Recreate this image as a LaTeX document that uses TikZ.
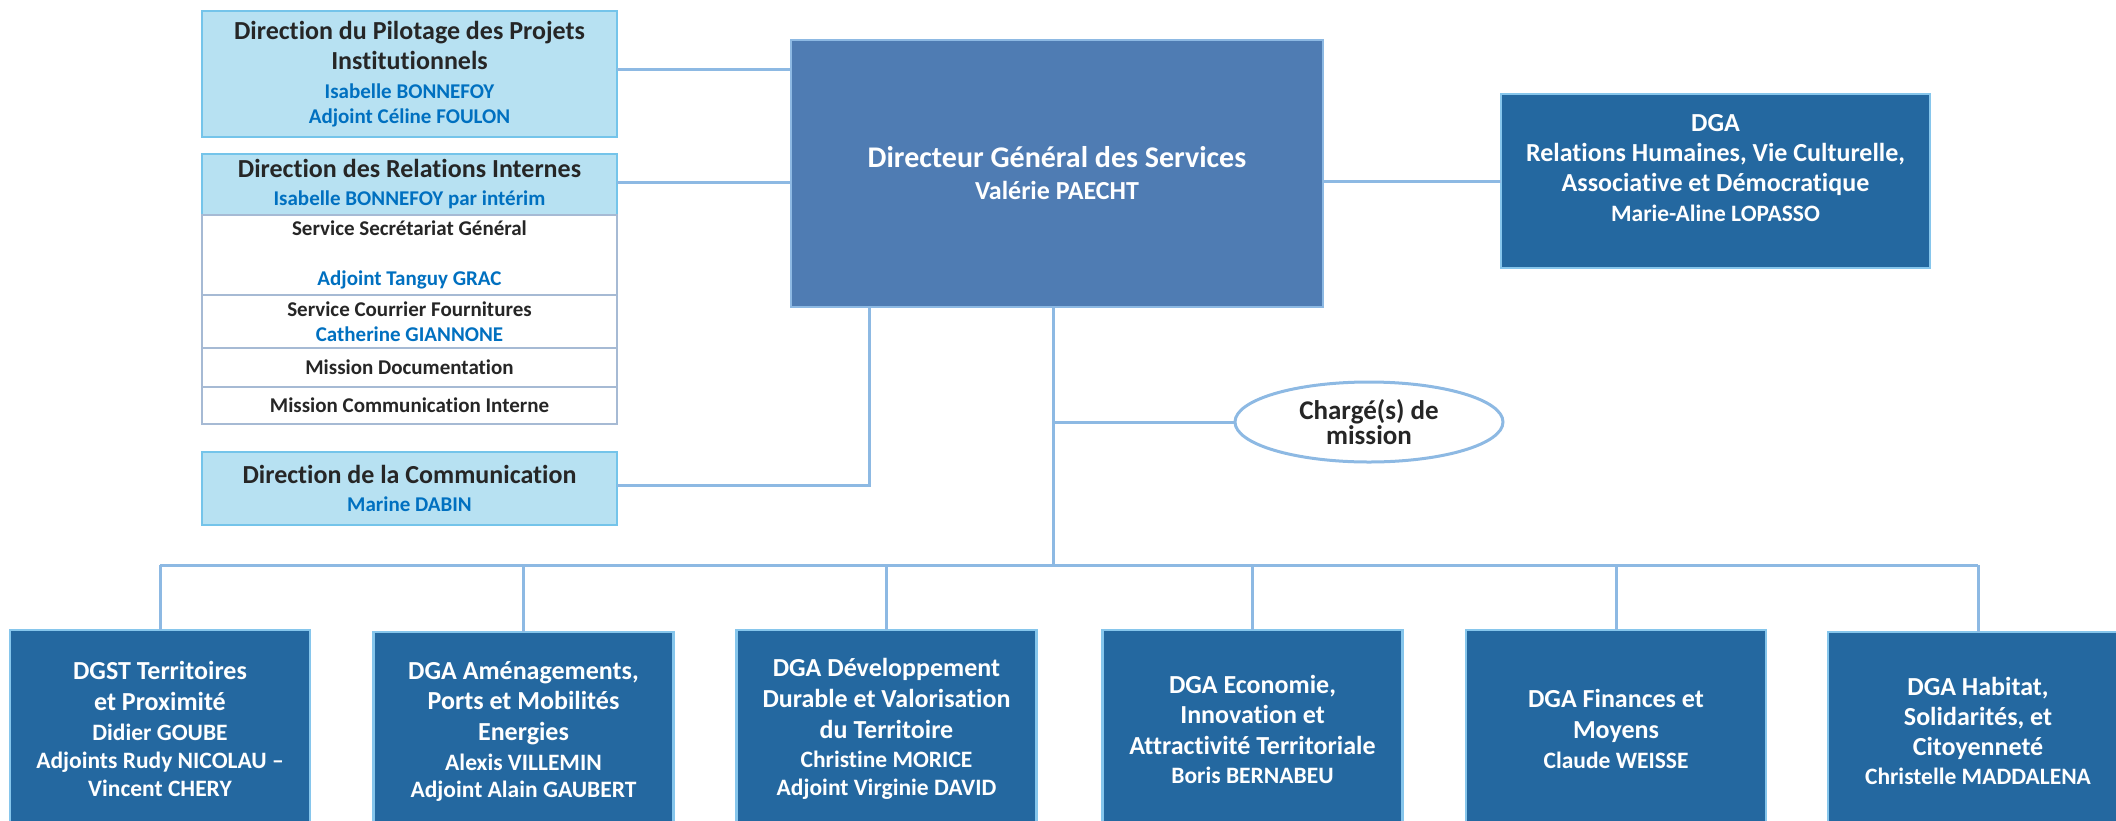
\documentclass[tikz,border=0pt]{standalone}
\usepackage{fontspec}
\setmainfont{Carlito}[Ligatures={NoCommon}]
\usetikzlibrary{shapes.geometric,calc}
\definecolor{lightfill}{HTML}{B7E1F2}
\definecolor{lightborder}{HTML}{74C4EA}
\definecolor{nameblue}{HTML}{0070C0}
\definecolor{darktxt}{HTML}{262626}
\definecolor{dgsfill}{HTML}{4F7CB3}
\definecolor{dgafill}{HTML}{2468A0}
\definecolor{dgaborder}{HTML}{86C6EC}
\definecolor{linkcol}{HTML}{8DB9E3}
\definecolor{servborder}{HTML}{A6BAD4}
\newcommand\Tt{\fontsize{13pt}{15pt}\selectfont\color{darktxt}}
\newcommand\Nn{\fontsize{10.5pt}{12.5pt}\selectfont\color{nameblue}}
\newcommand\Ss{\fontsize{10.5pt}{12.5pt}\selectfont\color{darktxt}}
\newcommand\Wt{\fontsize{13pt}{15pt}\selectfont}
\newcommand\Wn{\fontsize{11.75pt}{14pt}\selectfont}
\newcommand\skipto[1]{\fontsize{10pt}{#1}\selectfont}
\begin{document}
\begin{tikzpicture}[x=0.5pt,y=-0.5pt,
  every node/.style={inner sep=0pt, outer sep=0pt, align=center},
  bsk/.style={font=\bfseries\skipto{#1}},
  lbox/.style={rectangle, fill=lightfill, draw=lightborder, line width=1.3pt, minimum width=207.5pt},
  sbox/.style={rectangle, fill=white, draw=servborder, line width=1pt, minimum width=207.5pt},
  dbox/.style={rectangle, fill=dgafill, draw=dgaborder, line width=1.2pt, text=white},
  bbox/.style={dbox, minimum width=150pt, minimum height=99pt, bsk=14.5pt},
  link/.style={draw=linkcol, line width=1.5pt}
]
\useasboundingbox (0,0) rectangle (2116,820);
\clip (0,0) rectangle (2116,820);

% left column
\node[lbox, minimum height=63pt, bsk=15pt] (pil) at (409.5,74)
  {\Tt Direction du Pilotage des Projets\\
   \Tt Institutionnels\\[-0.5pt]
   \Nn Isabelle BONNEFOY\\[-2.5pt]
   \Nn Adjoint Céline FOULON};
\node[lbox, minimum height=30.5pt, bsk=14pt] (rel) at (409.5,184.5)
  {\Tt Direction des Relations Internes\\
   \Nn Isabelle BONNEFOY par intérim};
\node[sbox, minimum height=40pt, bsk=12.5pt] (sec) at (409.5,255)
  {\Ss Service Secrétariat Général\\[12.5pt]
   \Nn Adjoint Tanguy GRAC};
\node[sbox, minimum height=26.5pt, bsk=12.5pt] (cou) at (409.5,321.5)
  {\Ss Service Courrier Fournitures\\
   \Nn Catherine GIANNONE};
\node[sbox, minimum height=19.5pt, bsk=12.5pt] (doc) at (409.5,367.5)
  {\Ss Mission Documentation};
\node[sbox, minimum height=18.5pt, bsk=12.5pt] (mci) at (409.5,405.5)
  {\Ss Mission Communication Interne};
\node[lbox, minimum height=36.5pt, bsk=14pt] (com) at (409.5,488.5)
  {\Tt Direction de la Communication\\
   \Nn Marine DABIN};

% DGS
\node[rectangle, fill=dgsfill, draw=linkcol, line width=0.6pt, text=white,
      minimum width=266pt, minimum height=133.5pt, bsk=16pt] (dgs) at (1057,173.5)
  {\fontsize{15pt}{17pt}\selectfont Directeur Général des Services\\
   \fontsize{13pt}{15pt}\selectfont Valérie PAECHT};

% right DGA
\node[dbox, minimum width=214.5pt, minimum height=87pt] (dga) at (1715.5,181) {};
\node[text=white, bsk=15pt] (dgat) at ([yshift=6.25pt]dga.center)
  {\Wt DGA\\ \Wt Relations Humaines, Vie Culturelle,\\ \Wt Associative et Démocratique\\ \Wn Marie-Aline LOPASSO};

% ellipse
\node[ellipse, draw=linkcol, line width=1.5pt, fill=white,
      minimum width=134pt, minimum height=40pt, bsk=11.5pt] (ell) at (1369,422)
  {\fontsize{13.5pt}{11.5pt}\selectfont\color{darktxt} Chargé(s) de\\ \fontsize{13.5pt}{11.5pt}\selectfont\color{darktxt}mission};

% bottom boxes
\node[bbox] (b1) at (160,729)
  {\Wt DGST Territoires\\[1pt] \Wt et Proximité\\[0.5pt] \Wn Didier GOUBE\\[-0.5pt] \Wn Adjoints Rudy NICOLAU --\\[-0.5pt] \Wn Vincent CHERY};
\node[bbox] (b2) at (523.5,731)
  {\Wt DGA Aménagements,\\[0.5pt] \Wt Ports et Mobilités\\[1pt] \Wt Energies\\[0.5pt] \Wn Alexis VILLEMIN\\[-1pt] \Wn Adjoint Alain GAUBERT};
\node[bbox] (b3) at (886.5,729)
  {\Wt DGA Développement\\[1pt] \Wt Durable et Valorisation\\[1pt] \Wt du Territoire\\[0pt] \Wn Christine MORICE\\[-0.5pt] \Wn Adjoint Virginie DAVID};
\node[bbox] (b4) at (1252.5,729)
  {\Wt DGA Economie,\\[0.5pt] \Wt Innovation et\\[1pt] \Wt Attractivité Territoriale\\[0pt] \Wn Boris BERNABEU};
\node[bbox] (b5) at (1616,729)
  {\Wt DGA Finances et\\[1pt] \Wt Moyens\\[0.5pt] \Wn Claude WEISSE};
\node[bbox] (b6) at (1978,731)
  {\Wt DGA Habitat,\\[0.5pt] \Wt Solidarités, et\\[0.5pt] \Wt Citoyenneté\\[0pt] \Wn Christelle MADDALENA};

% connectors
\coordinate (c1) at (869,307);
\coordinate (c2) at (1053,307);
\coordinate (bus) at (1053,565);
\draw[link] ([yshift=2.5pt]pil.east) -- ([yshift=2.5pt]pil.east -| dgs.west);
\draw[link] ([yshift=1.25pt]rel.east) -- ([yshift=1.25pt]rel.east -| dgs.west);
\draw[link] (dga.west) -- (dga.west -| dgs.east);
\draw[link] ([yshift=1.75pt]com.east) -| (c1);
\draw[link] (c2) -- (bus);
\draw[link] (ell.west) -- (ell.west -| c2);
\draw[link] (b1.north |- bus) -- (b6.north |- bus);
\foreach \b in {b1,b2,b3,b4,b5,b6}
  \draw[link] (\b.north) -- (\b.north |- bus);
\end{tikzpicture}
\end{document}
